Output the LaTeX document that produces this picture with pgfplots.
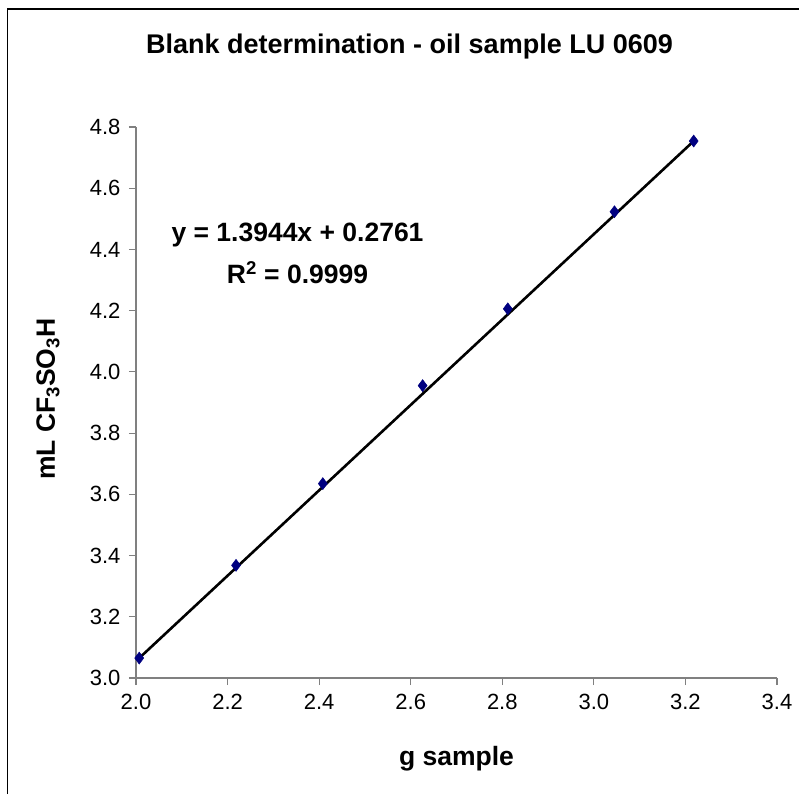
\documentclass[border=0pt]{standalone}
\usepackage{fontspec}
\setmainfont{Liberation Sans}
\usepackage{pgfplots}
\pgfplotsset{compat=1.18}

\definecolor{axisgray}{HTML}{808080}
\definecolor{marknavy}{HTML}{000080}

\begin{document}
\begin{tikzpicture}
    \path[use as bounding box] (0,0) rectangle (799pt,794pt);
    % outer chart frame (only left and top edges are in view)
    \draw[black, line width=1.4pt] (7.5pt,0) -- (7.5pt,785pt) -- (799pt,785pt);

    \begin{axis}[
        at={(136pt,116pt)}, anchor=south west,
        scale only axis,
        width=641pt, height=551pt,
        xmin=2.0, xmax=3.4,
        ymin=3.0, ymax=4.8,
        xtick={2.0,2.2,...,3.41},
        ytick={3.0,3.2,...,4.81},
        axis lines*=left,
        axis line style={axisgray, line width=1.4pt},
        tick style={axisgray, line width=1.2pt},
        tick align=outside,
        major tick length=7pt,
        xticklabel style={font=\fontsize{22}{26}\selectfont, text=black, yshift=-6pt},
        yticklabel style={font=\fontsize{22}{26}\selectfont, text=black, xshift=-5pt},
        xticklabel={\pgfmathprintnumber[fixed, fixed zerofill, precision=1]{\tick}},
        yticklabel={\pgfmathprintnumber[fixed, fixed zerofill, precision=1]{\tick}},
        /pgf/number format/assume math mode=true,
        title={Blank determination - oil sample LU 0609},
        title style={font=\fontsize{27}{32}\selectfont\bfseries,
            at={(axis description cs:0.4267,1)}, anchor=base, yshift=67.7pt},
        xlabel={g sample},
        xlabel style={font=\fontsize{26.5}{31}\selectfont\bfseries,
            at={(axis description cs:0.5,0)}, anchor=base, yshift=-87.7pt},
        ylabel={mL CF\textsubscript{3}SO\textsubscript{3}H},
        ylabel style={font=\fontsize{26.5}{31}\selectfont\bfseries,
            at={(axis description cs:-0.1264,0.506)}, anchor=base},
        clip=false,
    ]
        % measured points
        \addplot[only marks, mark=diamond*, mark size=6pt,
            mark options={fill=marknavy, draw=marknavy, line width=0.5pt}]
            coordinates {
            (2.007, 3.065) (2.2185, 3.368) (2.408, 3.635) (2.626, 3.955)
            (2.812, 4.206) (3.045, 4.523) (3.218, 4.754)
        };
        % linear trendline
        \addplot[black, line width=2.6pt] coordinates {
            (2.007, 3.065) (3.218, 4.754)
        };
        \node[anchor=base, font=\fontsize{26.5}{31}\selectfont\bfseries]
            at (rel axis cs:0.252,0.7918) {y = 1.3944x + 0.2761};
        \node[anchor=base, font=\fontsize{26.5}{31}\selectfont\bfseries]
            at (rel axis cs:0.252,0.7163) {R\textsuperscript{2} = 0.9999};
    \end{axis}
\end{tikzpicture}
\end{document}
